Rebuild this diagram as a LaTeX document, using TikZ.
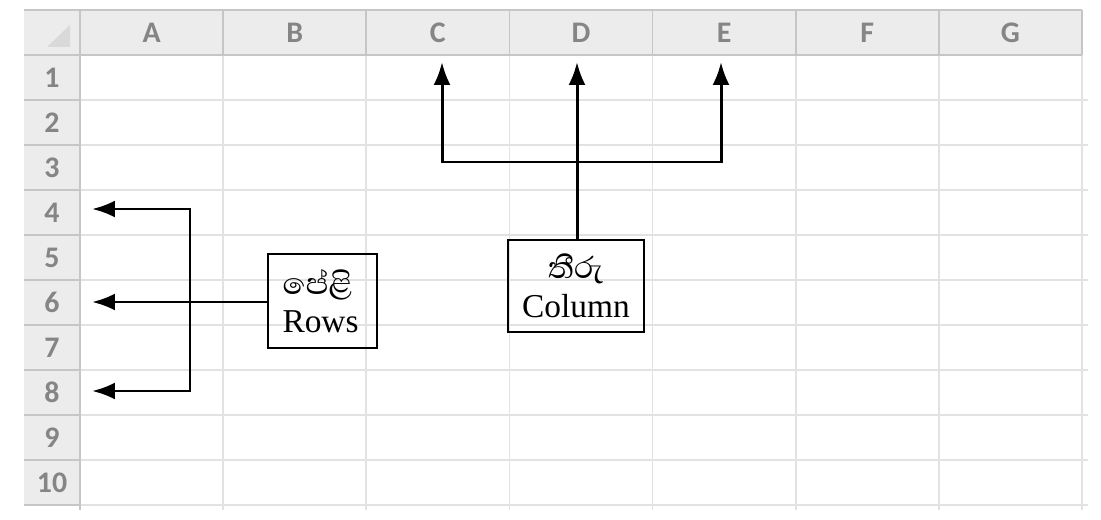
\documentclass[tikz,border=0pt]{standalone}
\usepackage{fontspec}
\setmainfont{Liberation Serif}
\newfontfamily\headfont{Carlito}
\newfontfamily\sinhala[Script=Sinhala]{Abhaya Libre}
\usetikzlibrary{arrows.meta}
\definecolor{hdrfill}{HTML}{ECECEC}
\definecolor{hdrline}{HTML}{C4C6C8}
\definecolor{gridgray}{HTML}{E0E2E4}
\definecolor{hdrtext}{HTML}{858585}

\begin{document}
\begin{tikzpicture}[x=0.02cm, y=-0.02cm,
  gridline/.style={gridgray, line width=1pt},
  hdrrule/.style={hdrline, line width=1pt},
  hdrlabel/.style={text=hdrtext, font=\headfont\bfseries\fontsize{17}{17}\selectfont},
  labelbox/.style={draw, line width=1.6pt, inner sep=0pt, font=\fontsize{19}{22}\selectfont},
  conn/.style={line width=1.7pt},
  arr/.style={conn, -{Latex[length=0.46cm, width=0.34cm]}}]
\useasboundingbox (0,0) rectangle (1101,520);
%
% header row and row numbers
\fill[hdrfill] (24,10) rectangle (1082,55);
\fill[hdrfill] (24,55) rectangle (80,505);
\fill[gray!30] (47,47) -- (70,47) -- (70,25) -- cycle;
% body grid
\foreach \y in {100,145,...,505} {
\draw[gridline] (80,\y) -- (1088,\y);
\draw[hdrrule] (24,\y) -- (80,\y);
}
\foreach \i in {1,...,7} {
\draw[gridline] (80+143.14*\i,55) -- (80+143.14*\i,510);
\draw[hdrrule] (80+143.14*\i,10) -- (80+143.14*\i,55);
}
\draw[hdrrule] (24,10) -- (1082,10);
\draw[hdrrule] (24,55) -- (1082,55);
\draw[hdrrule] (80,10) -- (80,510);
%
\foreach \c [count=\i] in {A,B,C,D,E,F,G} {
\node[hdrlabel] (col\c) at (80+143.14*\i-71.57,33) {\c};
}
\foreach \r in {1,...,10} {
\node[hdrlabel] (row\r) at (52,32.5+45*\r) {\r};
}

% Column
\node[labelbox, minimum width=2.72cm, minimum height=1.84cm, align=center] (colbox) at (576,286)
  {{\sinhala\fontsize{22}{22}\selectfont තීරු}\\Column};
\coordinate (tipC) at (442,62);
\coordinate (tipD) at (577,62);
\coordinate (tipE) at (721,62);
\coordinate (cjoin) at (577,162);
\draw[arr] (colbox.north -| tipD) -- (tipD);
\draw[arr] (cjoin) -| (tipC);
\draw[arr] (cjoin) -| (tipE);

% Rows
\node[labelbox, minimum width=2.18cm, minimum height=1.88cm, align=left, text width=1.6cm] (rowbox) at (322.5,301)
  {{\sinhala\fontsize{22}{22}\selectfont පේළි}\\Rows};
\coordinate (tip4) at (92,209);
\coordinate (tip6) at (92,302);
\coordinate (tip8) at (92,391);
\coordinate (rjoin) at (190,302);
\draw[arr] (rowbox.west |- tip6) -- (tip6);
\draw[arr] (rjoin) |- (tip4);
\draw[arr] (rjoin) |- (tip8);

\end{tikzpicture}
\end{document}
